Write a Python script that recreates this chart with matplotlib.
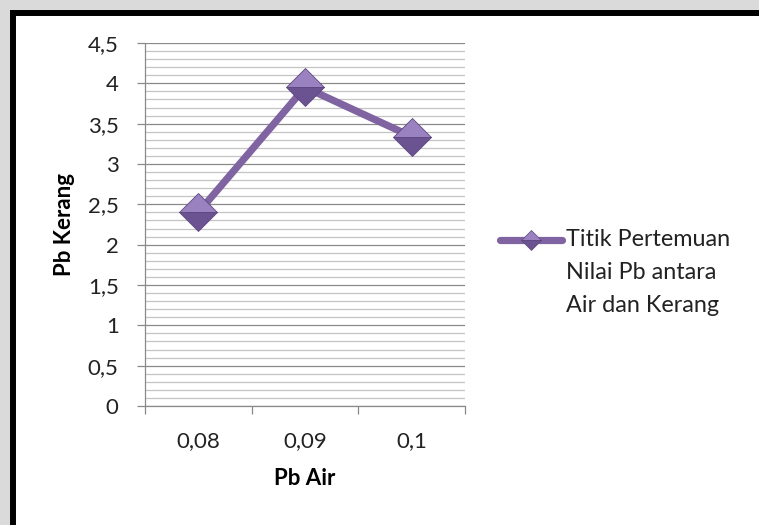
import matplotlib.pyplot as plt
from matplotlib.patches import Rectangle
from matplotlib.lines import Line2D
from matplotlib.ticker import MultipleLocator, FixedLocator

plt.rcParams['font.family'] = ['Lato', 'DejaVu Sans']

# data
pb_air = ['0,08', '0,09', '0,1']
pb_kerang = [2.40, 3.95, 3.34]
y_ticks = [0, 0.5, 1, 1.5, 2, 2.5, 3, 3.5, 4, 4.5]
y_labels = ['0', '0,5', '1', '1,5', '2', '2,5', '3', '3,5', '4', '4,5']
series_name = 'Titik Pertemuan\nNilai Pb antara\nAir dan Kerang'

purple = '#8064a2'
fs = 16

fig = plt.figure(figsize=(7.59, 5.25), dpi=100, facecolor='#dadada')
# white chart area with thick black frame (runs off the right/bottom edge)
fig.patches.append(Rectangle((12.5 / 759, -0.2), 1.2, 1.2 - 12.5 / 525,
                             transform=fig.transFigure, facecolor='white',
                             edgecolor='black', linewidth=4.3, zorder=0))

ax = fig.add_axes([145 / 759, 1 - 406 / 525, 320 / 759, 363 / 525])
ax.set_zorder(2)
ax.set_facecolor('none')

x = list(range(len(pb_air)))
ax.plot(x, pb_kerang, color=purple, lw=5.2, solid_capstyle='butt', zorder=3)
# beveled diamond markers: light top, dark bottom
ax.plot(x, pb_kerang, ls='none', marker='D', ms=19, fillstyle='top',
        markerfacecolor='#9a82c0', markerfacecoloralt='#6b5290',
        markeredgecolor='#5d4780', markeredgewidth=0.6, zorder=4)

ax.set_xlim(-0.5, len(pb_air) - 0.5)
ax.set_ylim(0, 4.5)

ax.set_yticks(y_ticks)
ax.set_yticklabels(y_labels)
ax.yaxis.set_minor_locator(MultipleLocator(0.1))
ax.grid(which='major', axis='y', color='#8a8a8a', lw=0.9)
ax.grid(which='minor', axis='y', color='#c4c4c4', lw=0.9)
ax.set_axisbelow(True)

ax.xaxis.set_major_locator(FixedLocator([i - 0.5 for i in range(len(pb_air) + 1)]))
ax.set_xticklabels([])
ax.xaxis.set_minor_locator(FixedLocator(x))
ax.set_xticklabels(pb_air, minor=True)

ax.tick_params(axis='y', which='major', length=6, width=0.9, color='#8a8a8a',
               pad=13, labelsize=fs, labelcolor='#222222')
ax.tick_params(axis='y', which='minor', length=0)
ax.tick_params(axis='x', which='major', length=6, width=0.9, color='#8a8a8a')
ax.tick_params(axis='x', which='minor', length=0, pad=18, labelsize=fs,
               labelcolor='#222222')

for s in ['top', 'right']:
    ax.spines[s].set_visible(False)
for s in ['left', 'bottom']:
    ax.spines[s].set_color('#8a8a8a')
    ax.spines[s].set_linewidth(0.9)

ax.set_xlabel('Pb Air', fontsize=fs, fontweight='bold', labelpad=12)
ax.set_ylabel('Pb Kerang', fontsize=fs, fontweight='bold', labelpad=9)

# legend: handle beside the first line of the series name
ly = 1 - 240 / 525
fig.add_artist(Line2D([500 / 759, 562 / 759], [ly, ly], color=purple, lw=5.2,
                      solid_capstyle='round', zorder=3))
fig.add_artist(Line2D([531 / 759], [ly], marker='D', ms=10, fillstyle='top',
                      markerfacecolor='#9a82c0', markerfacecoloralt='#6b5290',
                      markeredgecolor='#5d4780', markeredgewidth=0.5, zorder=4))
fig.text(566 / 759, 1 - 229 / 525, series_name, fontsize=16.8, va='top',
         ha='left', linespacing=1.7, color='#222222', zorder=4)

fig.savefig('out.png', dpi=100, facecolor=fig.get_facecolor())
